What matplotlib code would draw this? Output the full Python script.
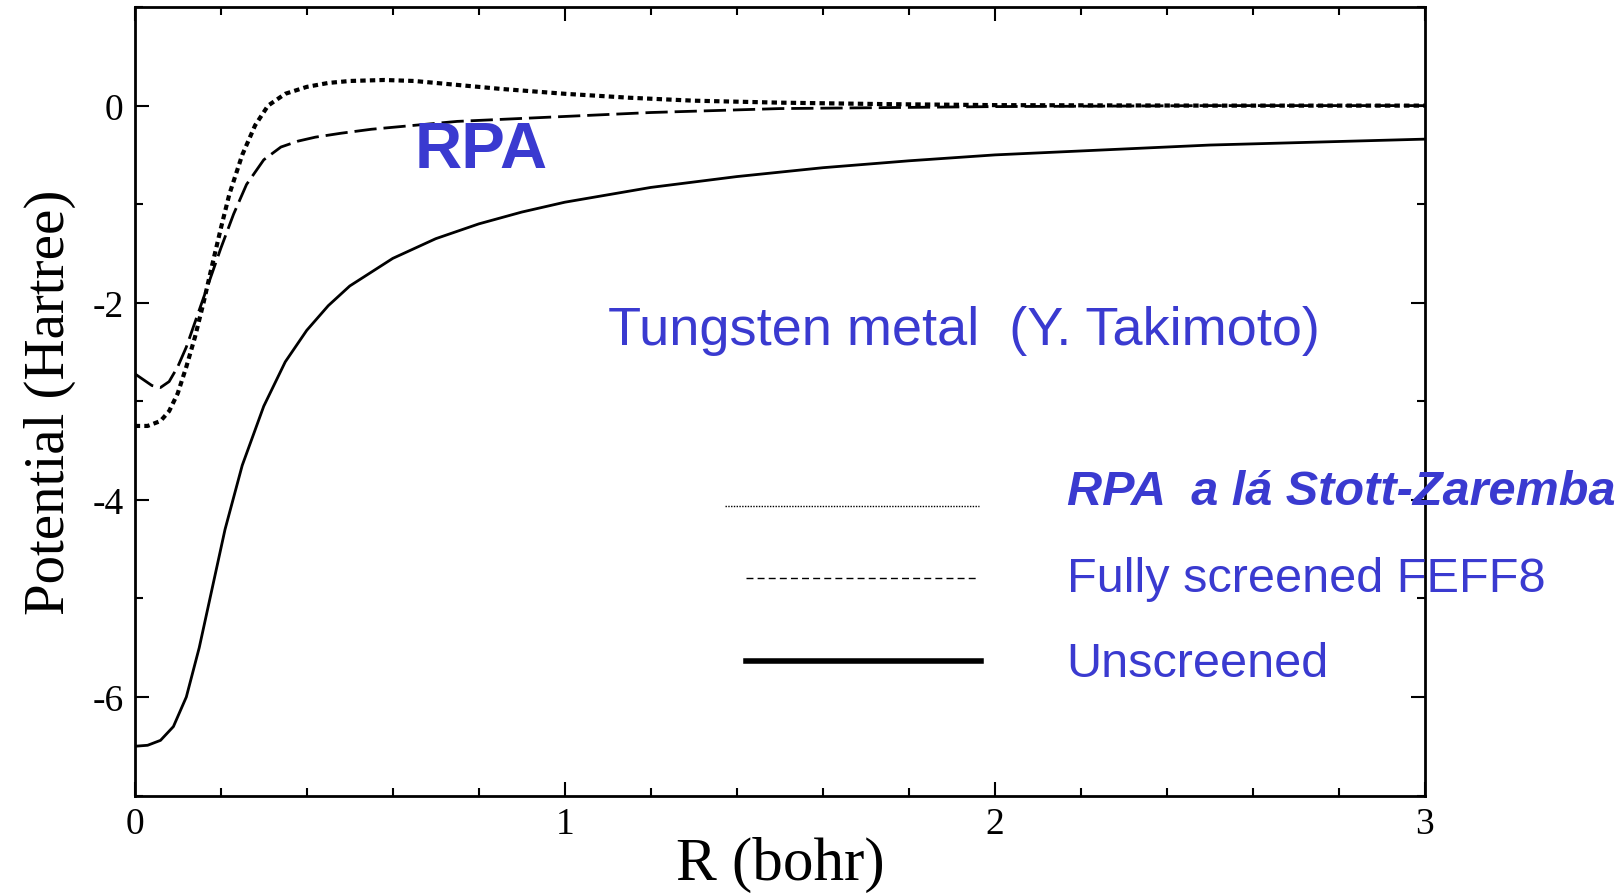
import matplotlib
matplotlib.use("Agg")
import matplotlib.pyplot as plt
from matplotlib.ticker import MultipleLocator

plt.rcParams["axes.unicode_minus"] = False

r_unscr = [0.0, 0.03, 0.06, 0.09, 0.12, 0.15, 0.18, 0.21, 0.25, 0.3, 0.35, 0.4, 0.45, 0.5, 0.6, 0.7, 0.8, 0.9, 1.0, 1.2, 1.4, 1.6, 1.8, 2.0, 2.25, 2.5, 2.75, 3.0]
v_unscr = [-6.5, -6.49, -6.44, -6.3, -6.0, -5.5, -4.9, -4.3, -3.65, -3.05, -2.6, -2.28, -2.03, -1.83, -1.55, -1.35, -1.2, -1.08, -0.98, -0.83, -0.72, -0.63, -0.56, -0.5, -0.45, -0.4, -0.37, -0.34]

r_rpa = [0.0, 0.03, 0.06, 0.08, 0.1, 0.12, 0.14, 0.16, 0.18, 0.2, 0.22, 0.25, 0.28, 0.31, 0.35, 0.4, 0.45, 0.5, 0.58, 0.65, 0.75, 0.85, 1.0, 1.15, 1.3, 1.5, 1.75, 2.0, 2.5, 3.0]
v_rpa = [-3.25, -3.25, -3.2, -3.1, -2.92, -2.65, -2.35, -2.0, -1.62, -1.25, -0.9, -0.5, -0.2, 0.0, 0.12, 0.19, 0.23, 0.25, 0.26, 0.25, 0.21, 0.17, 0.12, 0.08, 0.05, 0.03, 0.015, 0.005, 0.0, 0.0]

r_feff = [0.0, 0.02, 0.04, 0.06, 0.08, 0.1, 0.12, 0.14, 0.16, 0.18, 0.2, 0.23, 0.26, 0.3, 0.34, 0.38, 0.42, 0.48, 0.55, 0.65, 0.75, 0.9, 1.0, 1.2, 1.5, 2.0, 2.5, 3.0]
v_feff = [-2.72, -2.78, -2.84, -2.86, -2.8, -2.65, -2.45, -2.2, -1.95, -1.7, -1.45, -1.1, -0.8, -0.55, -0.42, -0.36, -0.32, -0.28, -0.24, -0.2, -0.16, -0.13, -0.11, -0.07, -0.03, -0.01, 0.0, 0.0]

blue = "#3a3ad0"
fig = plt.figure(figsize=(16.23, 8.95), dpi=100)
ax = fig.add_axes([0.083, 0.110, 0.795, 0.881])
ax.plot(r_unscr, v_unscr, color="black", lw=2)
ax.plot(r_rpa, v_rpa, color="black", lw=3, ls=(0, (1.3, 1.0)))
ax.plot(r_feff, v_feff, color="black", lw=2, ls=(0, (8, 2.5)))
ax.set_xlim(0, 3)
ax.set_ylim(-7, 1)
ax.xaxis.set_major_locator(MultipleLocator(1))
ax.xaxis.set_minor_locator(MultipleLocator(0.2))
ax.yaxis.set_major_locator(MultipleLocator(2))
ax.yaxis.set_minor_locator(MultipleLocator(1))
ax.tick_params(which="both", direction="in", top=True, right=True, width=1.5)
ax.tick_params(which="major", length=10, labelsize=27, pad=8)
ax.tick_params(which="minor", length=6)
for s in ax.spines.values():
    s.set_linewidth(2)
for t in ax.get_xticklabels() + ax.get_yticklabels():
    t.set_family("Liberation Serif")
ax.set_xlabel("R (bohr)", family="Liberation Serif", fontsize=44, labelpad=-4)
ax.set_ylabel("Potential (Hartree)", family="Liberation Serif", fontsize=41, labelpad=12)

ax.text(0.65, -0.45, "RPA", color=blue, fontsize=47, fontweight="bold", family="Liberation Sans", ha="left", va="center")
ax.text(1.1, -2.28, "Tungsten metal  (Y. Takimoto)", color=blue, fontsize=39, family="Liberation Sans", va="center")

tr = ax.transAxes
def fx(px): return (px - 130) / (1376 - 130)
def fy(py): return (770 - py) / (770 - 8)
ax.plot([fx(700), fx(945)], [fy(490), fy(490)], transform=tr, color="black", lw=1, ls=(0, (1, 1)), clip_on=False)
ax.plot([fx(720), fx(945)], [fy(560), fy(560)], transform=tr, color="black", lw=1, ls=(0, (5, 3)), clip_on=False)
ax.plot([fx(720), fx(947)], [fy(640), fy(640)], transform=tr, color="black", lw=4, clip_on=False)
ax.text(fx(1030), fy(476), "RPA  a lá Stott-Zaremba", transform=tr, color=blue, fontsize=35, fontweight="bold", fontstyle="italic", family="Liberation Sans", va="center", clip_on=False)
ax.text(fx(1030), fy(560), "Fully screened FEFF8", transform=tr, color=blue, fontsize=35, family="Liberation Sans", va="center", clip_on=False)
ax.text(fx(1030), fy(642), "Unscreened", transform=tr, color=blue, fontsize=35, family="Liberation Sans", va="center", clip_on=False)

fig.savefig("out.png", dpi=100)
